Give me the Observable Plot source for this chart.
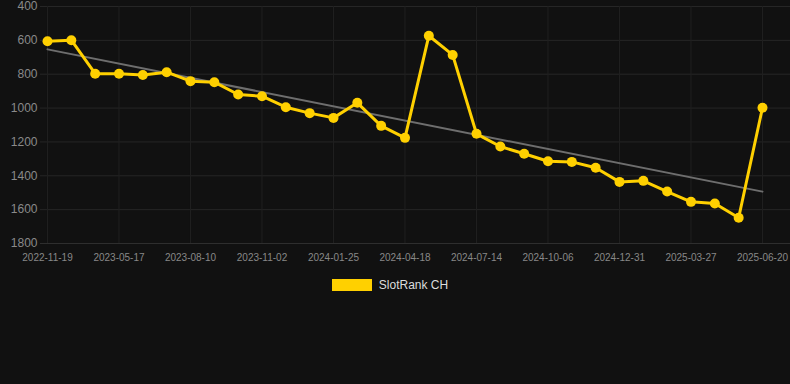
<!DOCTYPE html>
<html>
<head>
<meta charset="utf-8">
<script src="https://cdn.jsdelivr.net/npm/d3@7"></script>
<script src="https://cdn.jsdelivr.net/npm/@observablehq/plot@0.6"></script>
<style>
  html, body { margin: 0; padding: 0; background: #111111; }
  body { width: 790px; height: 384px; overflow: hidden; font-family: "Liberation Sans", Arial, sans-serif; }
  #legend { display: flex; justify-content: center; align-items: center; margin-top: 8px; margin-right: 10px; color: #dddddd; font-size: 12px; }
  #legend .sw { width: 40px; height: 12px; background: #FFD000; margin-right: 7px; }
</style>
</head>
<body>
<div id="chart"></div>
<div id="legend"><span class="sw"></span><span>SlotRank CH</span></div>
<script>
const dates = [
  "2022-11-19","2023-03-22","2023-04-19","2023-05-17","2023-06-14","2023-07-13",
  "2023-08-10","2023-09-07","2023-10-05","2023-11-02","2023-11-30","2023-12-28",
  "2024-01-25","2024-02-22","2024-03-21","2024-04-18","2024-05-16","2024-06-16",
  "2024-07-14","2024-08-11","2024-09-08","2024-10-06","2024-11-03","2024-12-03",
  "2024-12-31","2025-01-28","2025-02-27","2025-03-27","2025-04-24","2025-05-22",
  "2025-06-20"
];
const ranks = [
  605, 599, 797, 797, 805, 788,
  841, 847, 920, 930, 995, 1030,
  1058, 969, 1105, 1176, 573, 686,
  1152, 1227, 1270, 1314, 1318, 1353,
  1436, 1430, 1493, 1554, 1564, 1648,
  998
];
const yTicks = [400, 600, 800, 1000, 1200, 1400, 1600, 1800];
const seriesName = "SlotRank CH";

const data = dates.map((d, i) => ({i, date: d, rank: ranks[i]}));
const xTicks = d3.range(0, dates.length, 3);

const chart = Plot.plot({
  width: 790,
  height: 270,
  marginTop: 6,
  marginBottom: 27,
  marginLeft: 40,
  marginRight: 0,
  style: { background: "#111111", fontFamily: "'Liberation Sans', Arial, sans-serif", overflow: "visible" },
  x: { domain: [-0.2937, 31.175], ticks: xTicks, tickFormat: i => dates[i] },
  y: { domain: [400, 1800], reverse: true, ticks: yTicks, tickFormat: d => String(d) },
  marks: [
    Plot.gridY(yTicks, { stroke: "#262626", strokeOpacity: 1 }),
    Plot.gridX(xTicks, { stroke: "#202020", strokeOpacity: 1 }),
    Plot.ruleY([1800], { stroke: "#2e2e2e" }),
    Plot.axisY(yTicks, { tickSize: 0, tickPadding: 3, fontSize: 12, fill: "#8a8a8a", label: null, tickFormat: d => String(d) }),
    Plot.axisX(xTicks, { tickSize: 0, tickPadding: 10, fontSize: 10, fill: "#888888", label: null, tickFormat: i => dates[i] }),
    Plot.linearRegressionY(data, { x: "i", y: "rank", stroke: "#6e6e6e", strokeWidth: 2, ci: 0 }),
    Plot.line(data, { x: "i", y: "rank", stroke: "#FFD000", strokeWidth: 3 }),
    Plot.dot(data, { x: "i", y: "rank", r: 5, fill: "#FFD000", stroke: "none" })
  ]
});
document.getElementById("chart").appendChild(chart);
</script>
</body>
</html>
